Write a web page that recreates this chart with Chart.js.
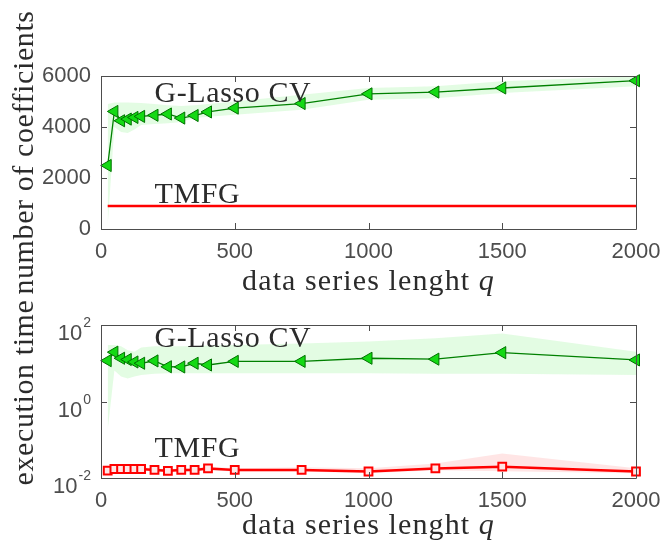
<!DOCTYPE html>
<html lang="en">
<head>
<meta charset="UTF-8">
<title>G-Lasso CV vs TMFG</title>
<style>
    body { margin: 0; background: #fff; }
    canvas { display: block; }
</style>
<script src="https://cdn.jsdelivr.net/npm/chart.js"></script>
</head>
<body>
<canvas id="coefChart" width="663" height="300"></canvas>
<canvas id="timeChart" width="663" height="243"></canvas>
<script>
// values
var qValues = [25, 50, 75, 100, 125, 150, 200, 250, 300, 350, 400, 500, 750, 1000, 1250, 1500, 2000];

var glassoCoef   = [2490, 4610, 4245, 4310, 4375, 4415, 4460, 4510, 4350, 4450, 4590, 4740, 4920, 5300, 5370, 5530, 5815];
var glassoCoefLo = [150, 4000, 3800, 3760, 3900, 4080, 4120, 4150, 4200, 4350, 4400, 4480, 4680, 5070, 5130, 5330, 5600];
var glassoCoefHi = [4900, 4960, 4960, 4960, 4950, 4940, 4900, 4850, 4820, 4850, 4900, 5000, 5260, 5530, 5600, 5790, 5990];
var tmfgCoef     = [900, 900, 900, 900, 900, 900, 900, 900, 900, 900, 900, 900, 900, 900, 900, 900, 900];

var glassoTime   = [11.7, 19.5, 13.5, 12.5, 10.8, 10.0, 11.5, 8.1, 8.0, 10.0, 9.0, 11.2, 11.2, 13.5, 12.8, 18.9, 12.2];
var glassoTimeLo = [0.18, 6.5, 4.5, 4.0, 4.5, 4.9, 5.3, 5.5, 5.5, 5.5, 5.5, 5.5, 5.5, 5.5, 5.3, 5.3, 4.9];
var glassoTimeHi = [30, 30, 28, 22, 20, 26, 28, 28, 28, 28, 29, 30, 33, 37, 45, 60, 20];
var tmfgTime     = [0.0156, 0.0172, 0.0172, 0.0172, 0.0172, 0.0172, 0.0163, 0.0154, 0.0163, 0.0163, 0.0178, 0.0163, 0.0163, 0.0148, 0.0178, 0.0198, 0.0148];
var tmfgTimeLo   = [0.0140, 0.0155, 0.0155, 0.0155, 0.0155, 0.0155, 0.0147, 0.0139, 0.0147, 0.0147, 0.0160, 0.0147, 0.0147, 0.0134, 0.0160, 0.0150, 0.0134];
var tmfgTimeHi   = [0.018, 0.019, 0.019, 0.019, 0.019, 0.019, 0.018, 0.017, 0.018, 0.018, 0.020, 0.018, 0.019, 0.018, 0.024, 0.044, 0.018];

var xTicks = [0, 500, 1000, 1500, 2000];
var coefTicks = [0, 2000, 4000, 6000];
var timeTicks = [0.01, 1, 100];

var SERIF = '"Liberation Serif", "Times New Roman", serif';
var SANS = '"Liberation Sans", Arial, sans-serif';
var TEXT = '#2b2b2b';
var AXIS = '#4d4d4d';
var GREEN_LINE = '#008000';
var GREEN_FILL = '#14d914';
var GREEN_BAND = 'rgba(60, 235, 60, 0.14)';
var RED = '#ff0000';
var RED_BAND = 'rgba(255, 0, 0, 0.10)';

function pts(ys) {
    return qValues.map(function (q, i) { return { x: q, y: ys[i] }; });
}

function fixTicks(values) {
    return function (s) { s.ticks = values.map(function (v) { return { value: v }; }); };
}

// matlab style box with inward ticks on all four sides
var boxPlugin = {
    id: 'box',
    afterDraw: function (chart) {
        var ctx = chart.ctx, a = chart.chartArea;
        var xs = chart.scales.x, ys = chart.scales.y;
        ctx.save();
        ctx.strokeStyle = AXIS;
        ctx.lineWidth = 1;
        ctx.beginPath();
        ctx.rect(Math.round(a.left) + 0.5, Math.round(a.top) + 0.5,
                 Math.round(a.right - a.left), Math.round(a.bottom - a.top));
        xs.ticks.forEach(function (t) {
            var px = Math.round(xs.getPixelForValue(t.value)) + 0.5;
            ctx.moveTo(px, a.bottom); ctx.lineTo(px, a.bottom - 6);
            ctx.moveTo(px, a.top); ctx.lineTo(px, a.top + 6);
        });
        ys.ticks.forEach(function (t) {
            var py = Math.round(ys.getPixelForValue(t.value)) + 0.5;
            ctx.moveTo(a.left, py); ctx.lineTo(a.left + 6, py);
            ctx.moveTo(a.right, py); ctx.lineTo(a.right - 6, py);
        });
        ctx.stroke();
        ctx.restore();
    }
};

// curve names, axis labels and 10^n tick labels
var textPlugin = {
    id: 'texts',
    afterDraw: function (chart, args, opts) {
        var ctx = chart.ctx, a = chart.chartArea;
        var xs = chart.scales.x, ys = chart.scales.y;
        ctx.save();
        ctx.fillStyle = TEXT;
        ctx.textBaseline = 'alphabetic';

        ctx.font = '30px ' + SERIF;
        ctx.textAlign = 'left';
        ctx.letterSpacing = '0.6px';
        opts.notes.forEach(function (n) {
            ctx.fillText(n.text, xs.getPixelForValue(n.q), ys.getPixelForValue(n.y));
        });

        // x label, q in italic
        var plain = 'data series lenght ';
        ctx.letterSpacing = '1.1px';
        ctx.font = '30px ' + SERIF;
        var w1 = ctx.measureText(plain).width;
        ctx.font = 'italic 30px ' + SERIF;
        var w2 = ctx.measureText('q').width;
        var x0 = (a.left + a.right) / 2 - (w1 + w2) / 2;
        var base = a.bottom + opts.xlabelGap;
        ctx.font = '30px ' + SERIF;
        ctx.fillText(plain, x0, base);
        ctx.font = 'italic 30px ' + SERIF;
        ctx.fillText('q', x0 + w1, base);

        // y label
        ctx.save();
        ctx.letterSpacing = '0.6px';
        ctx.font = '30px ' + SERIF;
        ctx.translate(33, (a.top + a.bottom) / 2 + (opts.ylabelShift || 0));
        ctx.rotate(-Math.PI / 2);
        ctx.textAlign = 'center';
        ctx.fillText(opts.ylabel, 0, 0);
        ctx.restore();

        ctx.letterSpacing = '0px';
        if (opts.powers) {
            ctx.fillStyle = AXIS;
            ys.ticks.forEach(function (t) {
                var py = ys.getPixelForValue(t.value);
                var e = String(Math.round(Math.log10(t.value)));
                ctx.font = '14px ' + SANS;
                var ew = ctx.measureText(e).width;
                ctx.textAlign = 'left';
                ctx.fillText(e, a.left - 10 - ew, py + 2);
                ctx.font = '22px ' + SANS;
                ctx.textAlign = 'right';
                ctx.fillText('10', a.left - 11 - ew, py + 15);
            });
        }
        ctx.restore();
    }
};

var tickFont = { family: SANS, size: 22 };

function xScale(height) {
    return {
        type: 'linear', min: 0, max: 2000,
        afterBuildTicks: fixTicks(xTicks),
        ticks: { padding: 10, color: AXIS, font: tickFont, maxRotation: 0,
                 callback: function (v) { return String(v); } },
        grid: { display: false, drawTicks: false },
        border: { display: false },
        afterFit: function (s) {
            s.height = height;
            s.paddingLeft = 0;
            s.paddingRight = 0;
        }
    };
}

function bandSets(lo, hi, color) {
    return [
        { data: pts(lo), borderWidth: 0, pointRadius: 0, fill: false },
        { data: pts(hi), borderWidth: 0, pointRadius: 0, fill: '-1', backgroundColor: color }
    ];
}

var glassoStyle = {
    borderColor: GREEN_LINE, borderWidth: 1.3,
    pointStyle: 'triangle', pointRotation: -90, pointRadius: 7,
    pointBackgroundColor: GREEN_FILL, pointBorderColor: '#007000', pointBorderWidth: 1,
    clip: false
};

var common = {
    responsive: false,
    animation: false,
    events: [],
    plugins: { legend: { display: false }, tooltip: { enabled: false } }
};

new Chart(document.getElementById('coefChart'), {
    type: 'line',
    data: {
        datasets: [
            Object.assign({ label: 'G-Lasso CV', data: pts(glassoCoef) }, glassoStyle),
            { label: 'TMFG', data: pts(tmfgCoef), borderColor: RED, borderWidth: 2.5, pointRadius: 0 }
        ].concat(bandSets(glassoCoefLo, glassoCoefHi, GREEN_BAND))
    },
    options: Object.assign({}, common, {
        layout: { padding: { top: 76, right: 27, left: 0, bottom: 0 } },
        scales: {
            x: xScale(71),
            y: {
                type: 'linear', min: 0, max: 6000,
                afterBuildTicks: fixTicks(coefTicks),
                ticks: { padding: 10, color: AXIS, font: tickFont,
                         callback: function (v) { return String(v); } },
                grid: { display: false, drawTicks: false },
                border: { display: false },
                afterFit: function (s) { s.width = 101; }
            }
        },
        plugins: Object.assign({}, common.plugins, {
            texts: {
                ylabel: 'number of coefficients',
                xlabelGap: 61,
                notes: [
                    { text: 'G-Lasso CV', q: 200, y: 4990 },
                    { text: 'TMFG', q: 200, y: 1020 }
                ]
            }
        })
    }),
    plugins: [boxPlugin, textPlugin]
});

new Chart(document.getElementById('timeChart'), {
    type: 'line',
    data: {
        datasets: [
            Object.assign({ label: 'G-Lasso CV', data: pts(glassoTime) }, glassoStyle),
            { label: 'TMFG', data: pts(tmfgTime), borderColor: RED, borderWidth: 2.5,
              pointStyle: 'rect', pointRadius: 5.5, pointBorderWidth: 2,
              pointBorderColor: RED, pointBackgroundColor: '#ffe6e6', clip: false }
        ].concat(bandSets(glassoTimeLo, glassoTimeHi, GREEN_BAND))
         .concat(bandSets(tmfgTimeLo, tmfgTimeHi, RED_BAND))
    },
    options: Object.assign({}, common, {
        layout: { padding: { top: 25, right: 27, left: 0, bottom: 0 } },
        scales: {
            x: xScale(65),
            y: {
                type: 'logarithmic', min: 0.01, max: 100,
                afterBuildTicks: fixTicks(timeTicks),
                ticks: { display: false },
                grid: { display: false, drawTicks: false },
                border: { display: false },
                afterFit: function (s) { s.width = 101; }
            }
        },
        plugins: Object.assign({}, common.plugins, {
            texts: {
                ylabel: 'execution time',
                ylabelShift: -9,
                xlabelGap: 56,
                powers: true,
                notes: [
                    { text: 'G-Lasso CV', q: 200, y: 26.6 },
                    { text: 'TMFG', q: 200, y: 0.0354 }
                ]
            }
        })
    }),
    plugins: [boxPlugin, textPlugin]
});
</script>
</body>
</html>
